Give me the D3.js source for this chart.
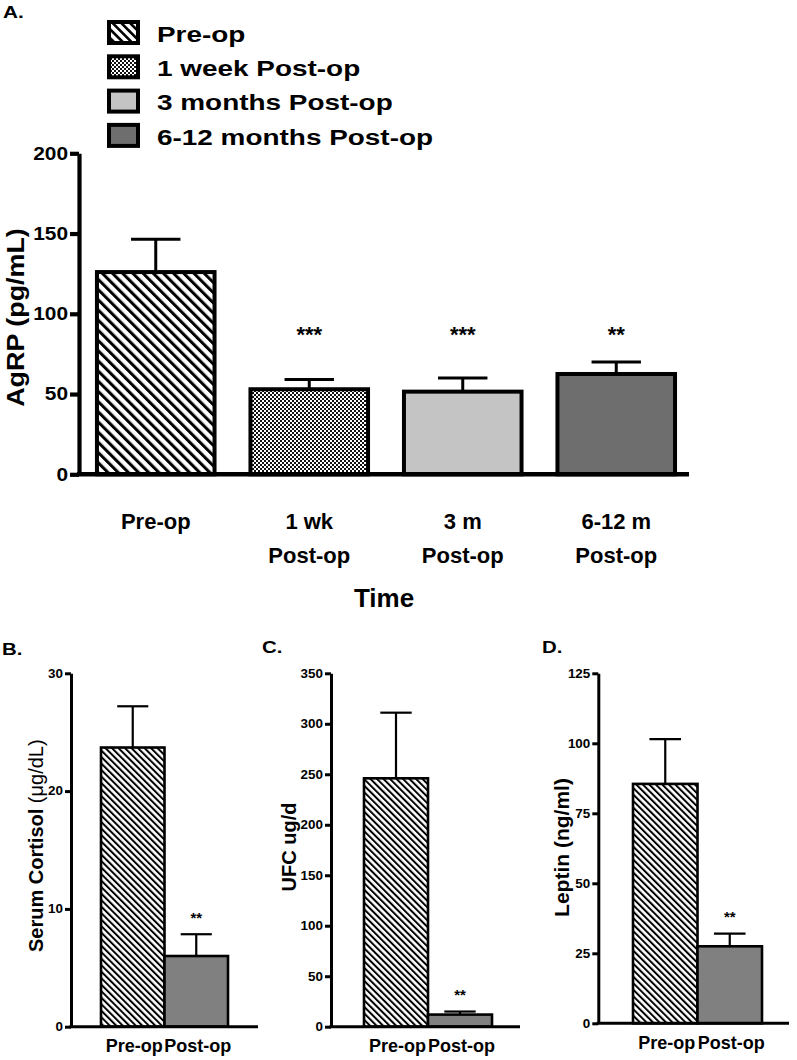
<!DOCTYPE html>
<html>
<head>
<meta charset="utf-8">
<script src="https://cdn.jsdelivr.net/npm/d3@7"></script>
<style>
  html, body { margin: 0; padding: 0; background: #fff; }
  svg { display: block; }
  text { font-family: "Liberation Sans", Arial, Helvetica, sans-serif; font-weight: bold; fill: #000; }
</style>
</head>
<body>
<svg id="chart" width="797" height="1060"></svg>
<script>
// ---------------- DATA ----------------
const catsA = ['Pre-op', '1 wk Post-op', '3 m Post-op', '6-12 m Post-op'];
const labelsA = [['Pre-op'], ['1 wk', 'Post-op'], ['3 m', 'Post-op'], ['6-12 m', 'Post-op']];
const agrpMean = [126, 53, 51.5, 62.5];
const agrpSem = [20.5, 6, 8.5, 7.5];
const agrpSig = ['', '***', '***', '**'];
const agrpTicks = [0, 50, 100, 150, 200];
const legendLabels = ['Pre-op', '1 week Post-op', '3 months Post-op', '6-12 months Post-op'];

const catsSmall = ['Pre-op', 'Post-op'];
const sigSmall = ['', '**'];
const cortisolMean = [23.7, 6.0];
const cortisolSem = [3.5, 1.85];
const cortisolTicks = [0, 10, 20, 30];
const ufcMean = [246, 12];
const ufcSem = [65, 3];
const ufcTicks = [0, 50, 100, 150, 200, 250, 300, 350];
const leptinMean = [85.5, 27.5];
const leptinSem = [16, 4.5];
const leptinTicks = [0, 25, 50, 75, 100, 125];

// ---------------- SETUP ----------------
const svg = d3.select('#chart');
svg.append('rect').attr('width', 797).attr('height', 1060).attr('fill', '#fff');

const defs = svg.append('defs');
function hatch(id, period, w) {
  const p = defs.append('pattern').attr('id', id)
    .attr('patternUnits', 'userSpaceOnUse')
    .attr('width', period).attr('height', period)
    .attr('patternTransform', 'rotate(-45)');
  p.append('rect').attr('width', period).attr('height', period).attr('fill', '#fff');
  p.append('rect').attr('width', w).attr('height', period).attr('fill', '#000');
}
hatch('hatchA', 7.2, 3.0);
hatch('hatchL', 6.2, 2.6);
hatch('hatchS', 4.6, 2.0);
{
  const p = defs.append('pattern').attr('id', 'checker')
    .attr('patternUnits', 'userSpaceOnUse').attr('width', 4).attr('height', 4);
  p.append('rect').attr('width', 4).attr('height', 4).attr('fill', '#fff');
  p.append('rect').attr('width', 2).attr('height', 2).attr('fill', '#111');
  p.append('rect').attr('x', 2).attr('y', 2).attr('width', 2).attr('height', 2).attr('fill', '#111');
}

// horizontal stretch helper for text (keeps anchor point)
function stretch(sel, k) {
  sel.each(function () {
    const t = d3.select(this);
    const x = +t.attr('x') || 0, y = +t.attr('y') || 0;
    t.attr('transform', `translate(${x},${y}) scale(${k},1) translate(${-x},${-y})`);
  });
}
function rotText(g, x, y, size, k) {
  return g.append('text')
    .attr('transform', `translate(${x},${y}) rotate(-90) scale(${k},1)`)
    .attr('text-anchor', 'middle').attr('font-size', size);
}

// ---------------- PANEL A ----------------
const fillsA = ['url(#hatchA)', 'url(#checker)', '#c4c4c4', '#6e6e6e'];
const axAX = 79, axAEnd = 689;
const yA = d3.scaleLinear().domain([0, 200]).range([474.3, 153.3]);
const xA = d3.scaleBand().domain(catsA).range([axAX, 693]).paddingInner(0.234).paddingOuter(0.117);
const gA = svg.append('g');

// y axis
const yAxisA = gA.append('g').attr('transform', `translate(${axAX},0)`)
  .call(d3.axisLeft(yA).tickValues(agrpTicks).tickSize(9).tickSizeOuter(0).tickPadding(2));
yAxisA.selectAll('path, line').attr('stroke', '#000').attr('stroke-width', 4.2);
yAxisA.selectAll('text').attr('font-size', 18).attr('font-weight', 'bold')
  .attr('font-family', '"Liberation Sans", Arial, sans-serif');
stretch(yAxisA.selectAll('text'), 1.16);

// bars
gA.selectAll('rect.bar').data(catsA).enter().append('rect').attr('class', 'bar')
  .attr('x', d => xA(d)).attr('width', xA.bandwidth())
  .attr('y', (d, i) => yA(agrpMean[i])).attr('height', (d, i) => yA(0) - yA(agrpMean[i]))
  .attr('fill', (d, i) => fillsA[i]).attr('stroke', '#000').attr('stroke-width', 4);
// error bars
const capA = xA.bandwidth() * 0.21;
catsA.forEach((c, i) => {
  const cx = xA(c) + xA.bandwidth() / 2;
  gA.append('line').attr('x1', cx).attr('x2', cx)
    .attr('y1', yA(agrpMean[i])).attr('y2', yA(agrpMean[i] + agrpSem[i]))
    .attr('stroke', '#000').attr('stroke-width', 3);
  gA.append('line').attr('x1', cx - capA).attr('x2', cx + capA)
    .attr('y1', yA(agrpMean[i] + agrpSem[i])).attr('y2', yA(agrpMean[i] + agrpSem[i]))
    .attr('stroke', '#000').attr('stroke-width', 3);
  if (agrpSig[i]) {
    gA.append('text').attr('x', cx).attr('y', yA(90) + 12.5).attr('text-anchor', 'middle')
      .attr('font-size', 22).text(agrpSig[i]);
  }
  const lab = gA.append('text').attr('text-anchor', 'middle').attr('font-size', 22);
  labelsA[i].forEach((s, j) => {
    lab.append('tspan').attr('x', cx).attr('y', 529 + j * 33.5).text(s);
  });
});
// x axis line
gA.append('line').attr('x1', axAX - 2).attr('x2', axAEnd).attr('y1', yA(0)).attr('y2', yA(0))
  .attr('stroke', '#000').attr('stroke-width', 4.5);

// axis titles
rotText(gA, 24, 317.5, 24, 1.12).text('AgRP (pg/mL)');
gA.append('text').attr('x', (axAX + axAEnd) / 2).attr('y', 606.5).attr('text-anchor', 'middle')
  .attr('font-size', 26).text('Time');

// panel letter
const letA = gA.append('text').attr('x', 3).attr('y', 18.5).attr('font-size', 17).text('A.');
stretch(letA, 1.22);

// legend
const legFills = ['url(#hatchL)', 'url(#checker)', '#c4c4c4', '#6e6e6e'];
const leg = gA.append('g');
legendLabels.forEach((s, i) => {
  const top = 22 + i * 34.3;
  leg.append('rect').attr('x', 109).attr('y', top).attr('width', 29).attr('height', 21)
    .attr('fill', legFills[i]).attr('stroke', '#000').attr('stroke-width', 4);
  const t = leg.append('text').attr('x', 157).attr('y', 41.7 + i * 34.3).attr('font-size', 22).text(s);
  stretch(t, 1.27);
});

// ---------------- SMALL PANELS ----------------
const fillsSmall = ['url(#hatchS)', '#808080'];
function smallPanel(o) {
  const g = svg.append('g');
  const y = d3.scaleLinear().domain([0, o.max]).range([o.y0, o.yTop]);
  const x = d3.scaleBand().domain(catsSmall).range([o.barL, o.barR]).padding(0);
  const ax = g.append('g').attr('transform', `translate(${o.axisX},0)`)
    .call(d3.axisLeft(y).tickValues(o.ticks).tickSize(6).tickSizeOuter(0).tickPadding(2));
  ax.selectAll('path, line').attr('stroke', '#000').attr('stroke-width', 3);
  ax.selectAll('text').attr('font-size', 12).attr('font-weight', 'bold')
    .attr('font-family', '"Liberation Sans", Arial, sans-serif');
  stretch(ax.selectAll('text'), 1.12);

  g.selectAll('rect.bar').data(catsSmall).enter().append('rect').attr('class', 'bar')
    .attr('x', d => x(d)).attr('width', x.bandwidth())
    .attr('y', (d, i) => y(o.mean[i])).attr('height', (d, i) => y(0) - y(o.mean[i]))
    .attr('fill', (d, i) => fillsSmall[i]).attr('stroke', '#000').attr('stroke-width', 2.6);

  const cap = x.bandwidth() * 0.245;
  catsSmall.forEach((c, i) => {
    const cx = x(c) + x.bandwidth() / 2;
    const top = y(o.mean[i] + o.sem[i]);
    g.append('line').attr('x1', cx).attr('x2', cx).attr('y1', y(o.mean[i])).attr('y2', top)
      .attr('stroke', '#000').attr('stroke-width', 2.2);
    g.append('line').attr('x1', cx - cap).attr('x2', cx + cap).attr('y1', top).attr('y2', top)
      .attr('stroke', '#000').attr('stroke-width', 2.2);
    if (sigSmall[i]) {
      g.append('text').attr('x', cx).attr('y', top - 20 + 8.5).attr('text-anchor', 'middle')
        .attr('font-size', 15).text(sigSmall[i]);
    }
    g.append('text').attr('x', cx + 1.5).attr('y', o.y0 + 25.5).attr('text-anchor', 'middle')
      .attr('font-size', 18).text(c);
  });
  g.append('line').attr('x1', o.axisX - 1.5).attr('x2', o.axisEnd).attr('y1', y(0)).attr('y2', y(0))
    .attr('stroke', '#000').attr('stroke-width', 3);

  const tt = rotText(g, o.titleX, o.titleY, o.titleSize, o.titleK);
  o.title(tt);
  const let_ = g.append('text').attr('x', o.letX).attr('y', o.letY).attr('font-size', 17).text(o.letter);
  stretch(let_, 1.2);
}

smallPanel({
  axisX: 71, y0: 1026.7, yTop: 673.3, max: 30, ticks: cortisolTicks,
  barL: 101, barR: 228, axisEnd: 258, mean: cortisolMean, sem: cortisolSem,
  titleX: 43.3, titleY: 845.7, titleSize: 20, titleK: 1.0,
  title: t => { t.append('tspan').text('Serum Cortisol '); t.append('tspan').attr('font-weight', 'normal').text('(μg/dL)'); },
  letter: 'B.', letX: 2, letY: 655
});
smallPanel({
  axisX: 331, y0: 1026.7, yTop: 673.3, max: 350, ticks: ufcTicks,
  barL: 364, barR: 492, axisEnd: 520, mean: ufcMean, sem: ufcSem,
  titleX: 296, titleY: 847, titleSize: 20, titleK: 1.0,
  title: t => t.text('UFC ug/d'),
  letter: 'C.', letX: 262, letY: 653
});
smallPanel({
  axisX: 598.3, y0: 1023.3, yTop: 673.3, max: 125, ticks: leptinTicks,
  barL: 633, barR: 762, axisEnd: 789, mean: leptinMean, sem: leptinSem,
  titleX: 569.3, titleY: 847.5, titleSize: 21, titleK: 1.0,
  title: t => t.text('Leptin (ng/ml)'),
  letter: 'D.', letX: 542, letY: 653
});
</script>
</body>
</html>
